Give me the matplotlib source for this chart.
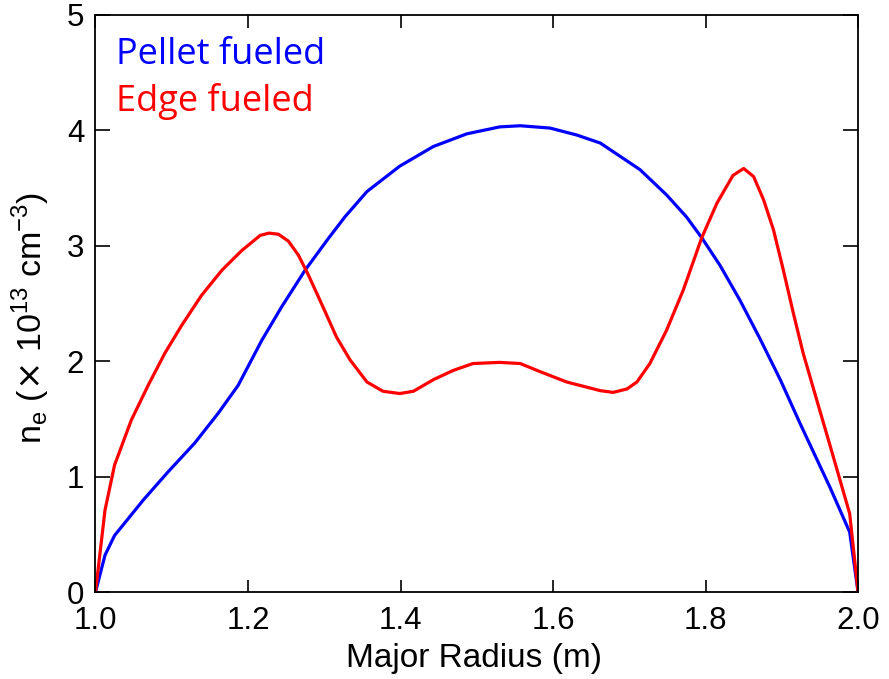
import matplotlib
matplotlib.use('Agg')
import matplotlib.pyplot as plt

# Pellet fueled profile (blue)
r_pellet = [1.0, 1.0125, 1.025, 1.063, 1.095, 1.130, 1.161, 1.187, 1.218, 1.244,
            1.275, 1.305, 1.327, 1.356, 1.399, 1.443, 1.487, 1.530, 1.557, 1.596,
            1.631, 1.662, 1.714, 1.749, 1.775, 1.795, 1.819, 1.845, 1.871, 1.898,
            1.924, 1.963, 1.989, 2.0]
ne_pellet = [0, 0.32, 0.49, 0.80, 1.04, 1.29, 1.55, 1.79, 2.18, 2.47,
             2.79, 3.06, 3.25, 3.47, 3.69, 3.86, 3.97, 4.03, 4.04, 4.02,
             3.96, 3.89, 3.66, 3.44, 3.25, 3.07, 2.83, 2.53, 2.20, 1.84,
             1.46, 0.91, 0.52, 0]

# Edge fueled profile (red)
r_edge = [1.0, 1.0125, 1.025, 1.047, 1.069, 1.091, 1.113, 1.139, 1.166, 1.192,
          1.216, 1.2275, 1.240, 1.253, 1.266, 1.279, 1.297, 1.316, 1.334, 1.356,
          1.377, 1.399, 1.417, 1.443, 1.469, 1.495, 1.530, 1.557, 1.583, 1.618,
          1.662, 1.679, 1.697, 1.710, 1.727, 1.749, 1.771, 1.795, 1.815, 1.836,
          1.850, 1.863, 1.876, 1.889, 1.902, 1.915, 1.928, 1.946, 1.965, 1.989, 2.0]
ne_edge = [0, 0.71, 1.10, 1.49, 1.79, 2.07, 2.31, 2.57, 2.79, 2.96,
           3.09, 3.11, 3.10, 3.04, 2.92, 2.75, 2.49, 2.21, 2.01, 1.82,
           1.74, 1.72, 1.74, 1.84, 1.92, 1.98, 1.99, 1.98, 1.91, 1.82,
           1.745, 1.73, 1.76, 1.82, 1.98, 2.27, 2.62, 3.07, 3.37, 3.61,
           3.67, 3.60, 3.40, 3.14, 2.79, 2.42, 2.07, 1.66, 1.23, 0.68, 0]

xticks = [1.0, 1.2, 1.4, 1.6, 1.8, 2.0]
yticks = [0, 1, 2, 3, 4, 5]

plt.rcParams['font.family'] = ['Liberation Sans', 'DejaVu Sans']

fig = plt.figure(figsize=(8.89, 6.79), dpi=100)
ax = fig.add_axes([0.1074, 0.128, 0.8578, 0.850])

ax.plot(r_pellet, ne_pellet, color='#0000ff', lw=2.3)
ax.plot(r_edge, ne_edge, color='#ff0000', lw=2.3)

ax.set_xlim(1.0, 2.0)
ax.set_ylim(0, 5)
ax.set_xticks(xticks)
ax.set_xticklabels([f'{t:.1f}' for t in xticks])
ax.set_yticks(yticks)
ax.tick_params(direction='in', top=True, right=True, labelsize=22.5,
               width=1.2)
ax.tick_params(axis='x', length=9, pad=10)
ax.tick_params(axis='y', length=11, pad=8)
for s in ax.spines.values():
    s.set_linewidth(1.3)

ax.set_xlabel('Major Radius (m)', fontsize=24)
ax.set_ylabel(r'n$_\mathregular{e}$ ($\times$ 10$^\mathregular{13}$ cm$^\mathregular{-3}$)',
              fontsize=24.5)
ax.xaxis.set_label_coords(0.497, -0.088)
ax.yaxis.set_label_coords(-0.057, 0.475)

ax.text(0.027, 0.93, 'Pellet fueled', transform=ax.transAxes, color='#0000ff',
        fontsize=26, family='Open Sans', va='center')
ax.text(0.027, 0.85, 'Edge fueled', transform=ax.transAxes, color='#ff0000',
        fontsize=26, family='Open Sans', va='center')

fig.savefig('out.png', dpi=100)
